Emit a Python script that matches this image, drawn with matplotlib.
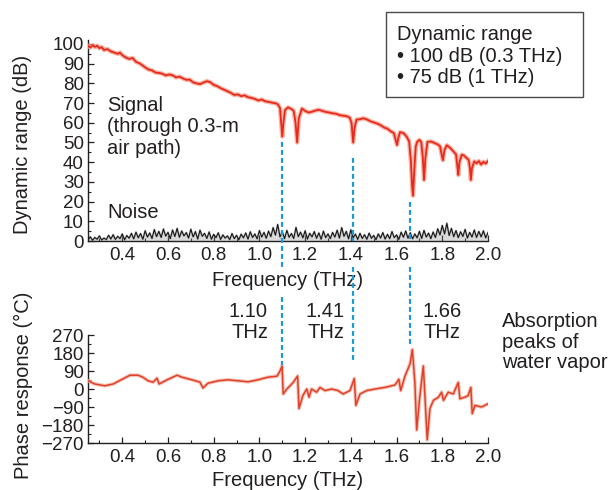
import numpy as np
import matplotlib
matplotlib.use("Agg")
import matplotlib.pyplot as plt
from matplotlib.lines import Line2D
from matplotlib.patches import Rectangle
from matplotlib.ticker import MultipleLocator

plt.rcParams['font.family'] = ['Liberation Sans', 'DejaVu Sans']

# ---- measured traces -------------------------------------------------------
signal_thz = [0.25, 0.26, 0.27, 0.28, 0.29, 0.30, 0.31, 0.32, 0.335, 0.35,
              0.365, 0.38, 0.39, 0.40, 0.415, 0.43, 0.445, 0.46, 0.475, 0.49,
              0.50, 0.515, 0.53, 0.545, 0.56, 0.575, 0.59, 0.605, 0.62, 0.635,
              0.65, 0.665, 0.68, 0.695, 0.71, 0.725, 0.74, 0.755, 0.77, 0.785,
              0.80, 0.815, 0.83, 0.845, 0.86, 0.875, 0.89, 0.905, 0.92, 0.935,
              0.95, 0.965, 0.98, 0.995, 1.01, 1.025, 1.04, 1.055, 1.07, 1.08,
              1.09, 1.095, 1.100, 1.105, 1.112, 1.125, 1.14, 1.150, 1.158, 1.165,
              1.172, 1.186, 1.20, 1.215, 1.23, 1.245, 1.26, 1.275, 1.29, 1.305,
              1.32, 1.335, 1.35, 1.365, 1.38, 1.395, 1.403, 1.41, 1.417, 1.425,
              1.44, 1.455, 1.47, 1.485, 1.50, 1.515, 1.53, 1.545, 1.56, 1.575,
              1.588, 1.597, 1.602, 1.607, 1.615, 1.63, 1.645, 1.655, 1.663, 1.668,
              1.672, 1.677, 1.684, 1.69, 1.70, 1.708, 1.715, 1.72, 1.726, 1.735,
              1.75, 1.765, 1.78, 1.79, 1.797, 1.803, 1.809, 1.82, 1.835, 1.85,
              1.86, 1.866, 1.870, 1.875, 1.885, 1.895, 1.905, 1.915, 1.921, 1.925,
              1.930, 1.94, 1.95, 1.96, 1.97, 1.98, 1.99, 2.00]
signal_db = [99.0, 98.2, 99.3, 98.5, 99.1, 97.8, 98.4, 96.9, 97.4, 96.2,
             95.6, 95.0, 95.6, 94.3, 93.1, 92.4, 92.9, 90.9, 90.2, 89.0,
             88.1, 87.0, 86.6, 85.5, 85.3, 84.9, 84.0, 84.5, 84.1, 83.0,
             83.4, 82.5, 81.8, 81.9, 80.5, 80.0, 79.6, 80.4, 81.1, 80.6,
             79.2, 78.6, 77.6, 76.8, 76.0, 75.2, 74.1, 74.4, 73.5, 73.9,
             73.0, 72.6, 72.1, 71.3, 71.8, 70.9, 70.6, 70.2, 69.9, 69.4,
             67.5, 60.0, 53.0, 60.0, 66.5, 67.8, 67.0, 66.0, 60.0, 50.0,
             62.0, 67.2, 66.0, 65.2, 65.6, 66.2, 66.6, 66.0, 65.5, 65.2,
             64.8, 64.6, 63.9, 63.6, 63.4, 62.6, 60.0, 50.0, 58.0, 61.6,
             61.8, 62.3, 61.7, 60.8, 60.2, 59.6, 58.8, 57.6, 57.0, 55.6,
             54.8, 51.0, 48.7, 52.0, 55.2, 54.8, 52.8, 50.5, 40.0, 28.0,
             23.0, 35.0, 48.0, 50.3, 51.3, 50.2, 42.0, 31.0, 42.0, 50.3,
             50.5, 49.8, 49.0, 48.1, 44.0, 41.0, 46.0, 48.6, 47.2, 45.3,
             44.0, 38.0, 33.5, 40.0, 43.8, 43.4, 42.2, 41.3, 37.0, 31.0,
             37.0, 40.4, 39.4, 40.6, 38.8, 40.2, 39.3, 40.6]

# noise floor, sampled every 0.01 THz from 0.25 to 2.00 THz
noise_db = [0.6, 2.1, 0.4, 1.8, 0.9, 2.6, 0.5, 1.5, 0.7, 2.9, 1.0,
            3.2, 0.8, 2.4, 1.2, 3.6, 0.6, 2.8, 1.4, 3.9, 1.1,
            4.5, 1.6, 3.8, 0.9, 5.2, 2.0, 4.1, 1.3, 5.8, 2.2,
            4.9, 1.8, 6.1, 2.5, 4.4, 1.2, 5.6, 2.3, 6.4, 1.9,
            5.1, 2.6, 4.3, 1.5, 6.0, 2.1, 4.8, 1.0, 5.5, 2.4,
            3.9, 1.3, 4.6, 0.9, 3.4, 1.7, 4.2, 0.8, 3.1, 1.5,
            2.6, 0.7, 3.8, 1.2, 2.9, 0.6, 3.5, 1.6, 4.1, 1.0,
            4.7, 1.8, 3.6, 1.1, 5.3, 2.0, 4.4, 1.4, 5.0, 2.2,
            6.8, 3.0, 8.4, 2.1, 4.6, 1.2, 5.4, 1.9, 3.8, 1.3,
            6.9, 2.2, 4.5, 1.6, 5.2, 1.0, 3.9, 2.1, 4.8, 1.4,
            4.1, 0.9, 5.0, 1.7, 3.6, 1.2, 4.4, 2.0, 5.5, 1.5,
            6.8, 2.4, 4.9, 1.1, 5.7, 1.6, 3.5, 0.8, 3.9, 1.3,
            3.2, 0.9, 4.0, 1.4, 2.8, 0.7, 3.6, 1.5, 4.3, 1.0,
            3.4, 1.2, 4.8, 1.7, 3.1, 0.8, 4.5, 1.9, 5.1, 1.4,
            4.2, 1.1, 3.6, 1.6, 4.9, 1.3, 5.4, 2.0, 4.0, 1.2,
            4.6, 1.8, 6.2, 3.1, 7.9, 3.6, 9.0, 2.8, 6.4, 2.2,
            5.3, 1.7, 4.7, 2.3, 5.9, 1.5, 4.4, 2.0, 5.6, 1.8,
            4.9, 2.1, 5.2, 1.6, 4.3]
noise_thz = np.linspace(0.25, 2.00, len(noise_db))

phase_thz = [0.25, 0.28, 0.324, 0.36, 0.40, 0.434, 0.469, 0.49, 0.513, 0.535,
             0.552, 0.561, 0.596, 0.64, 0.661, 0.705, 0.74, 0.753, 0.775, 0.819,
             0.862, 0.906, 0.95, 0.994, 1.037, 1.077, 1.09, 1.099, 1.104, 1.12,
             1.134, 1.148, 1.167, 1.173, 1.19, 1.207, 1.217, 1.228, 1.25, 1.265,
             1.287, 1.316, 1.344, 1.366, 1.396, 1.415, 1.422, 1.44, 1.469, 1.506,
             1.549, 1.593, 1.61, 1.618, 1.637, 1.659, 1.669, 1.68, 1.688, 1.702,
             1.717, 1.724, 1.734, 1.746, 1.761, 1.783, 1.797, 1.805, 1.826, 1.848,
             1.87, 1.877, 1.899, 1.913, 1.925, 1.931, 1.943, 1.972, 2.00]
phase_deg = [41, 25, 16, 25, 49, 69, 69, 59, 41, 34,
             54, 25, 46, 69, 59, 46, 34, 5, 29, 41,
             46, 41, 36, 46, 59, 64, 90, 115, -25, 0,
             16, 33, 65, -98, -33, 0, -41, 0, -16, 8,
             -8, 0, -8, -25, -8, 52, -82, -25, -8, 0,
             8, 20, 49, -8, 65, 126, 197, 33, -205, -33,
             115, -33, -254, -98, -57, -41, -16, -57, -16, -25,
             33, -49, -41, -33, 8, -123, -82, -90, -74]

# water-vapour absorption lines and the extent of their guide lines
absorption_thz = [1.10, 1.41, 1.66]
absorption_labels = ["1.10\nTHz", "1.41\nTHz", "1.66\nTHz"]
guide_top_db = [50, 42, 20]
guide_end_deg = [120, 130, 210]

freq_ticks = [0.4, 0.6, 0.8, 1.0, 1.2, 1.4, 1.6, 1.8, 2.0]
db_ticks = [0, 10, 20, 30, 40, 50, 60, 70, 80, 90, 100]
deg_ticks = [-270, -180, -90, 0, 90, 180, 270]

# ---- figure ----------------------------------------------------------------
W, H = 611, 490
fig = plt.figure(figsize=(W / 100, H / 100), dpi=100)


def fx(px):
    return px / W


def fy(py):
    return 1 - py / H


ax1 = fig.add_axes([fx(88), fy(241), fx(400), 201 / H])
ax2 = fig.add_axes([fx(88), fy(443), fx(400), 108 / H])

TICK_FS = 13.5
LABEL_FS = 14.5
TEXT_FS = 14.5
dark = '#231f20'

for ax in (ax1, ax2):
    for s in ('top', 'right'):
        ax.spines[s].set_visible(False)
    for s in ('left', 'bottom'):
        ax.spines[s].set_linewidth(1.0)
        ax.spines[s].set_color(dark)
    ax.set_xlim(0.25, 2.0)
    ax.set_xticks(freq_ticks)
    ax.set_xticklabels([f"{t:.1f}" for t in freq_ticks])
    ax.xaxis.set_minor_locator(MultipleLocator(0.1))
    ax.tick_params(which='both', direction='in', colors=dark,
                   labelsize=TICK_FS, labelcolor=dark)
    ax.tick_params(which='major', length=4, width=0.9)
    ax.tick_params(which='minor', length=2.5, width=0.8)
    ax.tick_params(axis='x', pad=4)
    ax.tick_params(axis='y', pad=3)

# dynamic range panel
ax1.set_ylim(0, 102)
ax1.set_yticks(db_ticks)
ax1.yaxis.set_minor_locator(MultipleLocator(5))
ax1.fill_between(noise_thz, 0, noise_db, color='#8a8a8a', alpha=0.3,
                 lw=0, zorder=2)
ax1.plot(noise_thz, noise_db, color='#9a9a9a', lw=1.6, alpha=0.5, zorder=2)
ax1.plot(noise_thz, noise_db, color='#151515', lw=0.8, zorder=3)
ax1.plot(signal_thz, signal_db, color='#f6a38f', lw=3.2, alpha=0.8, zorder=3)
ax1.plot(signal_thz, signal_db, color='#e8291c', lw=1.3, zorder=4)

ax1.set_xlabel("Frequency (THz)", fontsize=LABEL_FS, color=dark)
ax1.xaxis.label.set_va('center')
ax1.xaxis.set_label_coords(0.5, (241 - 281) / 201)
ax1.set_ylabel("Dynamic range (dB)", fontsize=LABEL_FS, color=dark)
ax1.yaxis.label.set_va('center')
ax1.yaxis.set_label_coords((23 - 88) / 400, (241 - 144) / 201)

# phase panel
ax2.set_ylim(-270, 270)
ax2.set_yticks(deg_ticks)
ax2.set_yticklabels([str(t).replace('-', '\u2212') for t in deg_ticks])
ax2.yaxis.set_minor_locator(MultipleLocator(45))
ax2.plot(phase_thz, phase_deg, color='#f4b3a2', lw=2.6, alpha=0.8, zorder=3)
ax2.plot(phase_thz, phase_deg, color='#e0402a', lw=1.1, zorder=4)

ax2.set_xlabel("Frequency (THz)", fontsize=LABEL_FS, color=dark)
ax2.xaxis.label.set_va('center')
ax2.xaxis.set_label_coords(0.5, (443 - 481) / 108)
ax2.set_ylabel("Phase response (\u00b0C)", fontsize=LABEL_FS, color=dark)
ax2.yaxis.label.set_va('center')
ax2.yaxis.set_label_coords((23 - 88) / 400, (443 - 385) / 108)

# ---- dashed guide lines at the absorption peaks -----------------------------
to_fig = fig.transFigure.inverted()
guide_color = '#1d9ad6'


def guide(p0, p1):
    a = to_fig.transform(p0)
    b = to_fig.transform(p1)
    fig.add_artist(Line2D([a[0], b[0]], [a[1], b[1]], color=guide_color,
                          lw=1.6, linestyle=(0, (2.2, 1.4)), zorder=5))


for i, f in enumerate(absorption_thz):
    xd = ax1.transData.transform((f, 0))[0]
    top = ax1.transData.transform((f, guide_top_db[i]))
    end = ax2.transData.transform((f, guide_end_deg[i]))
    # upper piece inside the dynamic range panel
    low1 = H - 267 if i == 0 else H - 241
    guide((xd, top[1]), (xd, low1))
    # lower piece down to the phase trace
    start2 = H - 297 if i == 0 else H - 267
    guide((xd, start2), (xd, end[1]))

# ---- annotations -----------------------------------------------------------
fig.text(fx(107), fy(127), "Signal\n(through 0.3-m\nair path)", fontsize=TEXT_FS,
         color=dark, ha='left', va='center', linespacing=1.15)
fig.text(fx(107), fy(212), "Noise", fontsize=TEXT_FS, color=dark,
         ha='left', va='center')

label_pos = [(268, 'right'), (345, 'right'), (423, 'left')]
for (px, ha), txt in zip(label_pos, absorption_labels):
    fig.text(fx(px), fy(322), txt, fontsize=TEXT_FS, color=dark, ha=ha,
             va='center', linespacing=1.15)

fig.text(fx(502), fy(342), "Absorption\npeaks of\nwater vapor", fontsize=TEXT_FS,
         color=dark, ha='left', va='center', linespacing=1.1)

# summary box
fig.add_artist(Rectangle((fx(386), fy(97)), fx(583 - 386), (97 - 12) / H,
                         transform=fig.transFigure, facecolor='white',
                         edgecolor='#4a4a4a', lw=1.0, zorder=1))
fig.text(fx(397), fy(56), "Dynamic range\n\u2022 100 dB (0.3 THz)\n\u2022 75 dB (1 THz)",
         fontsize=TEXT_FS, color=dark, ha='left', va='center',
         linespacing=1.15, zorder=2)

fig.savefig("out.png", dpi=100)
